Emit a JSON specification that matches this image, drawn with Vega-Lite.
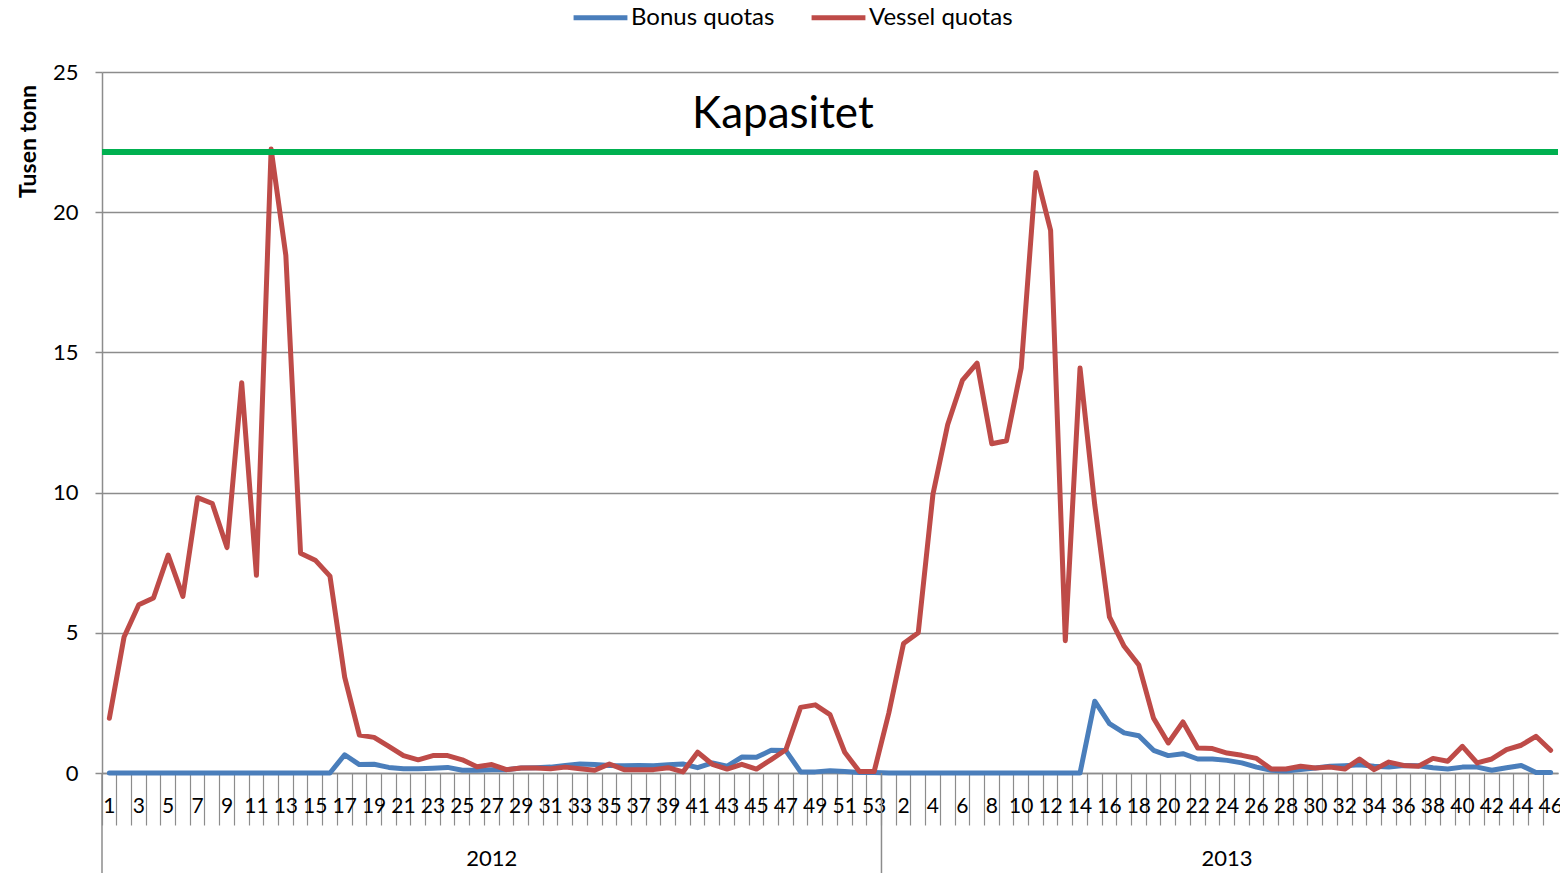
{
  "$schema": "https://vega.github.io/schema/vega-lite/v6.json",
  "width": 1456,
  "height": 701,
  "autosize": {"type": "none"},
  "padding": {"left": 102, "top": 72, "right": 2, "bottom": 100},
  "background": "white",
  "config": {
    "view": {"stroke": null},
    "font": "Lato",
    "axis": {"labelFont": "Lato", "titleFont": "Lato", "labelColor": "black", "titleColor": "black"},
    "legend": {"labelFont": "Lato"}
  },
  "resolve": {"axis": {"x": "independent", "y": "independent"}},
  "layer": [
    {
      "data": {"name": "quotas", "values": [
        {"week": "2012-01", "bonus": 0, "vessel": 1.95},
        {"week": "2012-02", "bonus": 0, "vessel": 4.85},
        {"week": "2012-03", "bonus": 0, "vessel": 6.0},
        {"week": "2012-04", "bonus": 0, "vessel": 6.24},
        {"week": "2012-05", "bonus": 0, "vessel": 7.77},
        {"week": "2012-06", "bonus": 0, "vessel": 6.3},
        {"week": "2012-07", "bonus": 0, "vessel": 9.82},
        {"week": "2012-08", "bonus": 0, "vessel": 9.61},
        {"week": "2012-09", "bonus": 0, "vessel": 8.04},
        {"week": "2012-10", "bonus": 0, "vessel": 13.92},
        {"week": "2012-11", "bonus": 0, "vessel": 7.05},
        {"week": "2012-12", "bonus": 0, "vessel": 22.25},
        {"week": "2012-13", "bonus": 0, "vessel": 18.46},
        {"week": "2012-14", "bonus": 0, "vessel": 7.84},
        {"week": "2012-15", "bonus": 0, "vessel": 7.59},
        {"week": "2012-16", "bonus": 0, "vessel": 7.02},
        {"week": "2012-17", "bonus": 0.65, "vessel": 3.42},
        {"week": "2012-18", "bonus": 0.3, "vessel": 1.35},
        {"week": "2012-19", "bonus": 0.31, "vessel": 1.27},
        {"week": "2012-20", "bonus": 0.2, "vessel": 0.95},
        {"week": "2012-21", "bonus": 0.15, "vessel": 0.62},
        {"week": "2012-22", "bonus": 0.15, "vessel": 0.47},
        {"week": "2012-23", "bonus": 0.17, "vessel": 0.62},
        {"week": "2012-24", "bonus": 0.2, "vessel": 0.62},
        {"week": "2012-25", "bonus": 0.1, "vessel": 0.47},
        {"week": "2012-26", "bonus": 0.1, "vessel": 0.22},
        {"week": "2012-27", "bonus": 0.12, "vessel": 0.3},
        {"week": "2012-28", "bonus": 0.12, "vessel": 0.12},
        {"week": "2012-29", "bonus": 0.18, "vessel": 0.18},
        {"week": "2012-30", "bonus": 0.19, "vessel": 0.18},
        {"week": "2012-31", "bonus": 0.21, "vessel": 0.15},
        {"week": "2012-32", "bonus": 0.27, "vessel": 0.21},
        {"week": "2012-33", "bonus": 0.32, "vessel": 0.15},
        {"week": "2012-34", "bonus": 0.3, "vessel": 0.1},
        {"week": "2012-35", "bonus": 0.27, "vessel": 0.32},
        {"week": "2012-36", "bonus": 0.26, "vessel": 0.12},
        {"week": "2012-37", "bonus": 0.27, "vessel": 0.12},
        {"week": "2012-38", "bonus": 0.26, "vessel": 0.12},
        {"week": "2012-39", "bonus": 0.29, "vessel": 0.19},
        {"week": "2012-40", "bonus": 0.32, "vessel": 0.04},
        {"week": "2012-41", "bonus": 0.19, "vessel": 0.74},
        {"week": "2012-42", "bonus": 0.36, "vessel": 0.31},
        {"week": "2012-43", "bonus": 0.24, "vessel": 0.14},
        {"week": "2012-44", "bonus": 0.57, "vessel": 0.31},
        {"week": "2012-45", "bonus": 0.56, "vessel": 0.14},
        {"week": "2012-46", "bonus": 0.81, "vessel": 0.48},
        {"week": "2012-47", "bonus": 0.8, "vessel": 0.83},
        {"week": "2012-48", "bonus": 0.04, "vessel": 2.34},
        {"week": "2012-49", "bonus": 0.04, "vessel": 2.43},
        {"week": "2012-50", "bonus": 0.08, "vessel": 2.08},
        {"week": "2012-51", "bonus": 0.05, "vessel": 0.74},
        {"week": "2012-52", "bonus": 0.02, "vessel": 0.05},
        {"week": "2012-53", "bonus": 0.02, "vessel": 0.05},
        {"week": "2013-01", "bonus": 0, "vessel": 2.14},
        {"week": "2013-02", "bonus": 0, "vessel": 4.62},
        {"week": "2013-03", "bonus": 0, "vessel": 5.0},
        {"week": "2013-04", "bonus": 0, "vessel": 9.94},
        {"week": "2013-05", "bonus": 0, "vessel": 12.42},
        {"week": "2013-06", "bonus": 0, "vessel": 14.0},
        {"week": "2013-07", "bonus": 0, "vessel": 14.62},
        {"week": "2013-08", "bonus": 0, "vessel": 11.74},
        {"week": "2013-09", "bonus": 0, "vessel": 11.85},
        {"week": "2013-10", "bonus": 0, "vessel": 14.44},
        {"week": "2013-11", "bonus": 0, "vessel": 21.42},
        {"week": "2013-12", "bonus": 0, "vessel": 19.35},
        {"week": "2013-13", "bonus": 0, "vessel": 4.72},
        {"week": "2013-14", "bonus": 0, "vessel": 14.44},
        {"week": "2013-15", "bonus": 2.56, "vessel": 9.57},
        {"week": "2013-16", "bonus": 1.76, "vessel": 5.57},
        {"week": "2013-17", "bonus": 1.43, "vessel": 4.52},
        {"week": "2013-18", "bonus": 1.33, "vessel": 3.85},
        {"week": "2013-19", "bonus": 0.81, "vessel": 1.95},
        {"week": "2013-20", "bonus": 0.62, "vessel": 1.07},
        {"week": "2013-21", "bonus": 0.69, "vessel": 1.82},
        {"week": "2013-22", "bonus": 0.5, "vessel": 0.89},
        {"week": "2013-23", "bonus": 0.5, "vessel": 0.87},
        {"week": "2013-24", "bonus": 0.45, "vessel": 0.71},
        {"week": "2013-25", "bonus": 0.36, "vessel": 0.63},
        {"week": "2013-26", "bonus": 0.21, "vessel": 0.52},
        {"week": "2013-27", "bonus": 0.1, "vessel": 0.14},
        {"week": "2013-28", "bonus": 0.07, "vessel": 0.14},
        {"week": "2013-29", "bonus": 0.12, "vessel": 0.24},
        {"week": "2013-30", "bonus": 0.18, "vessel": 0.18},
        {"week": "2013-31", "bonus": 0.24, "vessel": 0.21},
        {"week": "2013-32", "bonus": 0.26, "vessel": 0.14},
        {"week": "2013-33", "bonus": 0.29, "vessel": 0.5},
        {"week": "2013-34", "bonus": 0.24, "vessel": 0.12},
        {"week": "2013-35", "bonus": 0.21, "vessel": 0.39},
        {"week": "2013-36", "bonus": 0.27, "vessel": 0.27},
        {"week": "2013-37", "bonus": 0.26, "vessel": 0.24},
        {"week": "2013-38", "bonus": 0.19, "vessel": 0.52},
        {"week": "2013-39", "bonus": 0.14, "vessel": 0.42},
        {"week": "2013-40", "bonus": 0.21, "vessel": 0.95},
        {"week": "2013-41", "bonus": 0.21, "vessel": 0.36},
        {"week": "2013-42", "bonus": 0.1, "vessel": 0.5},
        {"week": "2013-43", "bonus": 0.19, "vessel": 0.83},
        {"week": "2013-44", "bonus": 0.27, "vessel": 0.99},
        {"week": "2013-45", "bonus": 0.02, "vessel": 1.31},
        {"week": "2013-46", "bonus": 0.02, "vessel": 0.81}
      ]},
      "transform": [{"fold": ["bonus", "vessel"], "as": ["series", "value"]}],
      "mark": {"type": "line", "strokeWidth": 5, "strokeJoin": "round", "strokeCap": "round"},
      "encoding": {
        "x": {
          "field": "week", "type": "ordinal",
          "scale": {"type": "band", "paddingInner": 0, "paddingOuter": 0},
          "axis": {
            "orient": "bottom",
            "bandPosition": 0, "labels": false, "ticks": true, "tickSize": 52,
            "tickColor": "#8c8c8c", "tickWidth": 1.2, "domain": true, "domainColor": "#8c8c8c",
            "domainWidth": 1.5, "grid": false, "title": null
          }
        },
        "y": {
          "field": "value", "type": "quantitative",
          "scale": {"domain": [0, 25], "nice": false, "zero": true},
          "axis": {
            "orient": "left",
            "values": [0, 5, 10, 15, 20, 25], "grid": true, "gridColor": "#8c8c8c", "gridWidth": 1.5,
            "domain": true, "domainColor": "#8c8c8c", "domainWidth": 1.5,
            "ticks": true, "tickSize": 7, "tickColor": "#8c8c8c", "tickWidth": 1.5,
            "labelFontSize": 22, "labelPadding": 17,
            "title": "Tusen tonn", "titleFontSize": 23, "titleFontWeight": "bold",
            "titleAngle": -90, "titleX": -74, "titleY": 69, "titleAlign": "center", "titleBaseline": "middle"
          }
        },
        "color": {
          "field": "series", "type": "nominal",
          "scale": {"domain": ["bonus", "vessel"], "range": ["#4A7EBB", "#BE4B48"]},
          "legend": {
            "orient": "none", "direction": "horizontal", "legendX": 469, "legendY": -84,
            "title": null, "symbolType": "stroke", "symbolStrokeWidth": 5, "symbolSize": 2900,
            "labelFontSize": 24, "labelColor": "black", "labelOffset": 1, "columnPadding": 26, "padding": 0,
            "labelExpr": "datum.label == 'bonus' ? 'Bonus quotas' : 'Vessel quotas'"
          }
        }
      }
    },
    {
      "data": {"values": [{"capacity": 22.15}]},
      "mark": {"type": "rule", "color": "#00B050", "strokeWidth": 6},
      "encoding": {
        "y": {"field": "capacity", "type": "quantitative", "axis": null}
      }
    },
    {
      "data": {"values": [{"label": "Kapasitet"}]},
      "mark": {"type": "text", "fontSize": 44, "font": "Lato", "color": "black", "align": "center", "baseline": "middle", "dx": -3},
      "encoding": {
        "x": {"datum": "2012-47", "type": "ordinal", "axis": null},
        "y": {"datum": 23.47, "type": "quantitative", "axis": null},
        "text": {"field": "label"}
      }
    },
    {
      "data": {"values": [{"week": "2012-01"}, {"week": "2013-01"}]},
      "mark": {"type": "rule", "color": "#8c8c8c", "strokeWidth": 1.5},
      "encoding": {
        "x": {
          "field": "week", "type": "ordinal", "bandPosition": 0,
          "axis": {
            "orient": "bottom",
            "values": ["2012-01","2012-03","2012-05","2012-07","2012-09","2012-11","2012-13","2012-15","2012-17","2012-19","2012-21","2012-23","2012-25","2012-27","2012-29","2012-31","2012-33","2012-35","2012-37","2012-39","2012-41","2012-43","2012-45","2012-47","2012-49","2012-51","2012-53","2013-02","2013-04","2013-06","2013-08","2013-10","2013-12","2013-14","2013-16","2013-18","2013-20","2013-22","2013-24","2013-26","2013-28","2013-30","2013-32","2013-34","2013-36","2013-38","2013-40","2013-42","2013-44","2013-46"],
            "labelExpr": "'' + toNumber(split(datum.label, '-')[1])",
            "ticks": false, "tickSize": 0, "domain": false, "grid": false,
            "labelFontSize": 21, "labelPadding": 22, "labelOverlap": false, "labelAngle": 0, "labelBound": false, "title": null
          }
        },
        "y": {"datum": 0, "type": "quantitative", "axis": null},
        "y2": {"datum": -3.6}
      }
    },
    {
      "data": {"values": [{"week": "2012-27", "year": "2012"}, {"week": "2013-24", "year": "2013"}]},
      "mark": {"type": "text", "fontSize": 22, "font": "Lato", "color": "black", "align": "center", "baseline": "middle"},
      "encoding": {
        "x": {"field": "week", "type": "ordinal", "axis": null},
        "y": {"datum": -3.07, "type": "quantitative", "axis": null},
        "text": {"field": "year"}
      }
    }
  ]
}
